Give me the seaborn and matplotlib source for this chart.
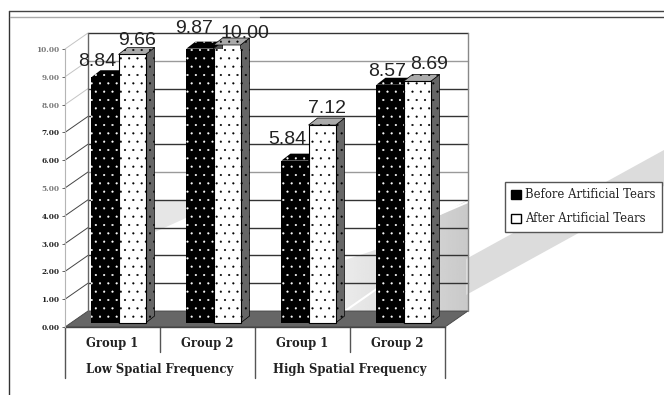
import matplotlib
matplotlib.use("Agg")
import matplotlib.pyplot as plt
import numpy as np
import pandas as pd
import seaborn as sns
from matplotlib.patches import Patch, Polygon

# values
group_labels = ["Group 1", "Group 2", "Group 1", "Group 2"]
freq_labels = ["Low Spatial Frequency", "High Spatial Frequency"]
series_names = ["Before Artificial Tears", "After Artificial Tears"]
before_values = [8.84, 9.87, 5.84, 8.57]
after_values = [9.66, 10.00, 7.12, 8.69]
y_ticks = [0, 1, 2, 3, 4, 5, 6, 7, 8, 9, 10]

W, H = 664, 395
PX_X, PX_Y = 95.0, 27.8  # pixels per category / per unit
SERIF = "DejaVu Serif"

sns.set_theme(style="white")
plt.rcParams["font.family"] = ["Liberation Sans", "DejaVu Sans"]
plt.rcParams["hatch.linewidth"] = 0.3

df = pd.DataFrame(
    {
        "slot": [0, 1, 2, 3] * 2,
        "value": before_values + after_values,
        "series": [series_names[0]] * 4 + [series_names[1]] * 4,
    }
)

fig = plt.figure(figsize=(W / 100, H / 100), dpi=100, facecolor="white")

# background in pixel coordinates: frame, swoosh, wall shading
bg = fig.add_axes([0, 0, 1, 1], zorder=0)
bg.set_xlim(0, W)
bg.set_ylim(H, 0)
bg.axis("off")
bg.plot([9, 9], [11, H], color="#333333", lw=1)
bg.plot([9, W], [11, 11], color="#444444", lw=1)
bg.plot([10, 260], [17, 17], color="#aaaaaa", lw=1)
bg.plot([260, W], [17, 17], color="#444444", lw=1)
bg.add_patch(
    Polygon([(466, 259), (664, 150), (664, 186), (466, 295)], fc="#dcdcdc", ec="none")
)
bg.add_patch(
    Polygon([(155, 200), (186, 200), (186, 218), (155, 232)], fc="#e6e6e6", ec="none")
)
shade = np.linspace(0.92, 0.79, 64).reshape(1, -1)
img = bg.imshow(
    shade,
    extent=(345, 468, 311, 200),
    cmap="gray",
    vmin=0,
    vmax=1,
    aspect="auto",
    interpolation="bilinear",
)
wall_clip = Polygon(
    [(345, 260), (375, 250), (468, 200), (468, 311), (345, 311)],
    transform=bg.transData,
    fc="none",
    ec="none",
)
bg.add_patch(wall_clip)
img.set_clip_path(wall_clip)
bg.plot([345, 378], [311, 288], color="white", lw=1.5)
bg.plot([440, 468], [214, 202], color="white", lw=1.5)
bg.set_xlim(0, W)
bg.set_ylim(H, 0)

# chart axes: left edge and zero line are the front of the 3D box
ax = fig.add_axes([65 / W, (H - 327) / H, 380 / W, 278 / H], zorder=1)
ax.patch.set_visible(False)

sns.barplot(
    data=df,
    x="slot",
    y="value",
    hue="series",
    hue_order=series_names,
    palette=["black", "white"],
    saturation=1,
    width=0.57,
    gap=0,
    errorbar=None,
    legend=False,
    ax=ax,
)
ax.set_xlim(-0.5, 3.5)
ax.set_ylim(0, 10)

# depth of the box and of the bars, in data units
wall_dx, wall_dy = 23 / PX_X, 16 / PX_Y
bar_dx, bar_dy = 9 / PX_X, 7 / PX_Y
lift_x, lift_y = 6 / PX_X, 4 / PX_Y

# floor, walls, gridlines
ax.add_patch(
    Polygon(
        [(-0.5, 0), (3.5, 0), (3.5 + wall_dx, wall_dy), (-0.5 + wall_dx, wall_dy)],
        fc="#666666",
        ec="#444444",
        lw=0.6,
        clip_on=False,
        zorder=0.5,
    )
)
for t in y_ticks[1:]:
    col = "#9a9a9a" if t in (5, 9) else "#333333"
    ax.plot(
        [-0.5 + wall_dx, 3.5 + wall_dx],
        [t + wall_dy, t + wall_dy],
        color=col,
        lw=1,
        clip_on=False,
        zorder=1,
    )
    ax.plot(
        [-0.5, -0.5 + wall_dx],
        [t, t + wall_dy],
        color="#444444" if t < 8 else "#c4c4c4",
        lw=0.7,
        clip_on=False,
        zorder=1,
    )
ax.plot(
    [-0.5 + wall_dx] * 2, [wall_dy, 10 + wall_dy], color="#666666", lw=1, clip_on=False, zorder=1
)
ax.plot(
    [3.5 + wall_dx] * 2, [wall_dy, 10 + wall_dy], color="#888888", lw=1, clip_on=False, zorder=1
)

# extrude the seaborn bars
styles = [
    dict(top="black", side="#555555", hatch_col="white", z=3),
    dict(top="#aaaaaa", side="#666666", hatch_col="black", z=4),
]
for bars, st in zip(ax.containers, styles):
    for bar in bars:
        bar.set_x(bar.get_x() + lift_x)
        bar.set_y(lift_y)
        x0, w, y1 = bar.get_x(), bar.get_width(), lift_y + bar.get_height()
        bar.set_zorder(st["z"] + 0.2)
        bar.set_hatch("..")
        bar.set_edgecolor(st["hatch_col"])
        bar.set_linewidth(0 if st["hatch_col"] == "white" else 0.8)
        side = [
            (x0 + w, lift_y),
            (x0 + w + bar_dx, lift_y + bar_dy),
            (x0 + w + bar_dx, y1 + bar_dy),
            (x0 + w, y1),
        ]
        top = [(x0, y1), (x0 + w, y1), (x0 + w + bar_dx, y1 + bar_dy), (x0 + bar_dx, y1 + bar_dy)]
        ax.add_patch(
            Polygon(side, fc=st["side"], ec="black", hatch="..", lw=0.5, clip_on=False, zorder=st["z"])
        )
        ax.add_patch(
            Polygon(
                top,
                fc=st["top"],
                ec=st["hatch_col"],
                hatch="..",
                lw=0 if st["hatch_col"] == "white" else 0.5,
                clip_on=False,
                zorder=st["z"],
            )
        )

# value labels, nudged by hand like the original (pixels from bar top)
nudges = [
    [(-8, 7), (-6, 12), (-8, 13), (-3, 5)],
    [(5, 5), (18, 3), (5, 8), (12, 8)],
]
for bars, vals, nudge in zip(ax.containers, [before_values, after_values], nudges):
    for bar, v, (nx, ny) in zip(bars, vals, nudge):
        ax.annotate(
            f"{v:.2f}",
            (bar.get_x() + bar.get_width() / 2, lift_y + v),
            xytext=(nx * 0.72, ny * 0.72),
            textcoords="offset points",
            ha="center",
            va="bottom",
            fontsize=14,
            color="#222222",
            annotation_clip=False,
            zorder=7,
        )

# axes
for name in ["top", "right"]:
    ax.spines[name].set_visible(False)
ax.spines["left"].set_color("#b5b5b5")
ax.spines["left"].set_linewidth(0.8)
ax.spines["bottom"].set_color("#444444")
ax.spines["bottom"].set_linewidth(1)
ax.spines["bottom"].set_zorder(2)
ax.set_xlabel("")
ax.set_ylabel("")
ax.set_yticks(y_ticks)
ax.set_yticklabels(
    [f"{t:.2f}" for t in y_ticks],
    fontfamily=SERIF,
    fontweight="bold",
    fontsize=5.3,
)
for t, lab in zip(y_ticks, ax.get_yticklabels()):
    lab.set_color("#222222" if t < 8 and t != 5 else "#777777")
ax.tick_params(axis="y", left=True, length=2, width=0.7, color="#666666", pad=2)
ax.set_xticks([0, 1, 2, 3])
ax.set_xticklabels(group_labels, fontfamily=SERIF, fontweight="bold", fontsize=8.4, color="#222222")
ax.tick_params(axis="x", bottom=False, pad=1)

# multi-level axis: dividers and frequency labels
xt = ax.get_xaxis_transform()
for x, depth in [(-0.5, 51), (0.5, 25), (1.5, 51), (2.5, 25), (3.5, 51)]:
    ax.plot([x, x], [0, -depth / 278], transform=xt, color="#555555", lw=1, clip_on=False)
for x, label in zip([0.5, 2.5], freq_labels):
    ax.text(
        x,
        -43 / 278,
        label,
        transform=xt,
        ha="center",
        va="center",
        fontfamily=SERIF,
        fontweight="bold",
        fontsize=8.4,
        color="#222222",
    )

handles = [
    Patch(facecolor="black", edgecolor="black", label=series_names[0]),
    Patch(facecolor="white", edgecolor="black", label=series_names[1]),
]
leg = fig.legend(
    handles=handles,
    loc="upper left",
    bbox_to_anchor=(505 / W, (H - 182) / H),
    frameon=True,
    fancybox=False,
    framealpha=1,
    edgecolor="#555555",
    borderaxespad=0,
    handlelength=0.8,
    handleheight=0.8,
    handletextpad=0.4,
    labelspacing=0.95,
    borderpad=0.55,
    prop={"family": SERIF, "size": 8.4},
    labelcolor="#222222",
)
leg.set_zorder(5)

fig.savefig("out.png", dpi=100)
